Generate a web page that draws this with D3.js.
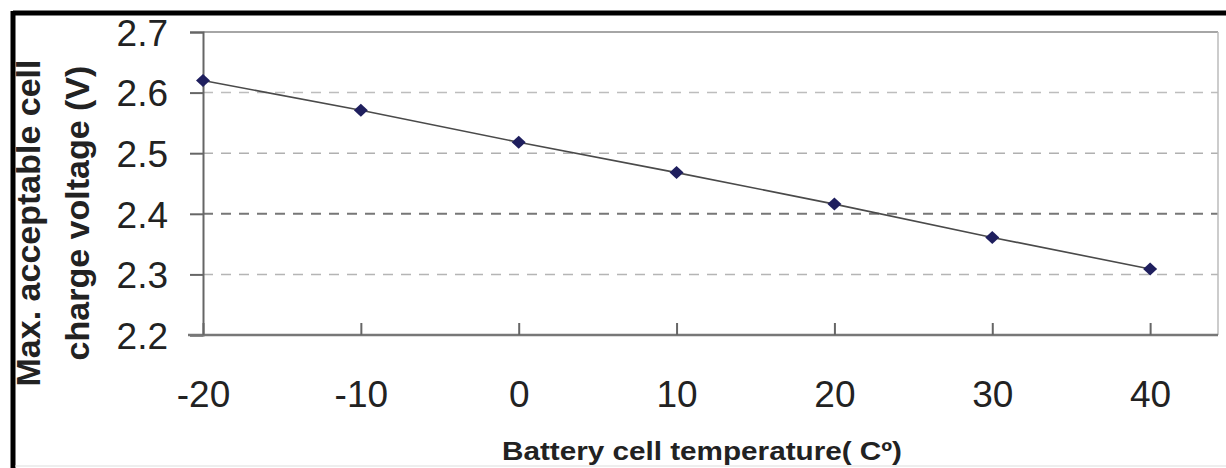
<!DOCTYPE html>
<html>
<head>
<meta charset="utf-8">
<script src="https://cdn.jsdelivr.net/npm/d3@7"></script>
<style>
  html, body { margin: 0; padding: 0; background: #fff; }
  svg { display: block; }
  text { font-family: Arial, "Liberation Sans", sans-serif; fill: #222; }
</style>
</head>
<body>
<svg id="chart" width="1226" height="468"></svg>
<script>
const temperatures = [-20, -10, 0, 10, 20, 30, 40];
const voltages = [2.62, 2.571, 2.518, 2.468, 2.416, 2.361, 2.309];
const yTicks = [2.2, 2.3, 2.4, 2.5, 2.6, 2.7];
const xTicks = [-20, -10, 0, 10, 20, 30, 40];
const xTitle = "Battery cell temperature( C\u00BA)";
const yTitleLines = ["Max. acceptable cell", "charge voltage (V)"];

const svg = d3.select("#chart");
const pLeft = 203, pRight = 1218, pTop = 32, pBottom = 335;

const x = d3.scaleLinear().domain([-20, 44.3]).range([pLeft, pRight]);
const y = d3.scaleLinear().domain([2.2, 2.7]).range([pBottom, pTop]);

// outer frame
svg.append("line").attr("x1", 13).attr("x2", 1226).attr("y1", 13).attr("y2", 13)
  .attr("stroke", "#000").attr("stroke-width", 5);
svg.append("line").attr("x1", 13).attr("x2", 13).attr("y1", 11).attr("y2", 468)
  .attr("stroke", "#000").attr("stroke-width", 5);
svg.append("line").attr("x1", 15).attr("x2", 1226).attr("y1", 466).attr("y2", 466)
  .attr("stroke", "#ddd").attr("stroke-width", 1);

// gridlines
const gridStyle = {2.3: ["#b5b5b5", 1.5], 2.4: ["#777", 2], 2.5: ["#b0b0b0", 1.5], 2.6: ["#bdbdbd", 1.5]};
svg.append("g").selectAll("line")
  .data(yTicks.filter(v => v > 2.2 && v < 2.7))
  .join("line")
  .attr("x1", pLeft).attr("x2", pRight)
  .attr("y1", d => y(d)).attr("y2", d => y(d))
  .attr("stroke", d => gridStyle[d][0])
  .attr("stroke-width", d => gridStyle[d][1])
  .attr("stroke-dasharray", "10,8");

// plot border (top and right)
svg.append("line").attr("x1", pLeft).attr("x2", pRight).attr("y1", y(2.7)).attr("y2", y(2.7))
  .attr("stroke", "#888").attr("stroke-width", 1.5);
svg.append("line").attr("x1", pRight).attr("x2", pRight).attr("y1", y(2.7)).attr("y2", y(2.2))
  .attr("stroke", "#bbb").attr("stroke-width", 1.5);

// y axis
const yAxis = d3.axisLeft(y).tickValues(yTicks).tickSize(13).tickPadding(22)
  .tickFormat(d => d.toFixed(1));
const gy = svg.append("g").attr("transform", `translate(${pLeft},0)`).call(yAxis);
gy.select(".domain").attr("stroke", "#666").attr("stroke-width", 2);
gy.selectAll(".tick line").attr("stroke", "#666").attr("stroke-width", 2);
gy.selectAll(".tick text").attr("font-size", 37).attr("fill", "#222")
  .attr("font-family", "Arial, 'Liberation Sans', sans-serif").attr("dy", "0.36em");

// x axis (ticks pointing inward)
const xAxis = d3.axisBottom(x).tickValues(xTicks).tickSize(-12).tickPadding(0)
  .tickFormat(d => String(d));
const gx = svg.append("g").attr("transform", `translate(0,${pBottom})`).call(xAxis);
gx.select(".domain").attr("d", `M${pLeft - 15},0H${pRight}`).attr("stroke", "#777").attr("stroke-width", 2.5);
gx.selectAll(".tick line").attr("stroke", "#666").attr("stroke-width", 2);
gx.selectAll(".tick text").attr("font-size", 37).attr("fill", "#222")
  .attr("font-family", "Arial, 'Liberation Sans', sans-serif")
  .attr("y", 72).attr("dy", 0);

// line
const line = d3.line().x((d, i) => x(temperatures[i])).y(d => y(d));
svg.append("path").datum(voltages).attr("d", line)
  .attr("fill", "none").attr("stroke", "#4a4a4a").attr("stroke-width", 1.6);

// markers
svg.append("g").selectAll("path")
  .data(voltages)
  .join("path")
  .attr("transform", (d, i) => `translate(${x(temperatures[i])},${y(d)})`)
  .attr("d", "M0,-6.5L7,0L0,6.5L-7,0Z")
  .attr("fill", "#1f1f5e");

// titles
svg.append("text")
  .attr("x", 702).attr("y", 460)
  .attr("text-anchor", "middle")
  .attr("font-size", 26).attr("font-weight", "bold").attr("fill", "#222")
  .attr("textLength", 400).attr("lengthAdjust", "spacingAndGlyphs")
  .text(xTitle);

const yCenters = [[40, 223], [89, 213]];
yTitleLines.forEach((t, i) => {
  svg.append("text")
    .attr("transform", `translate(${yCenters[i][0]},${yCenters[i][1]}) rotate(-90)`)
    .attr("text-anchor", "middle")
    .attr("font-size", 34).attr("font-weight", "bold").attr("fill", "#222")
    .text(t);
});
</script>
</body>
</html>
